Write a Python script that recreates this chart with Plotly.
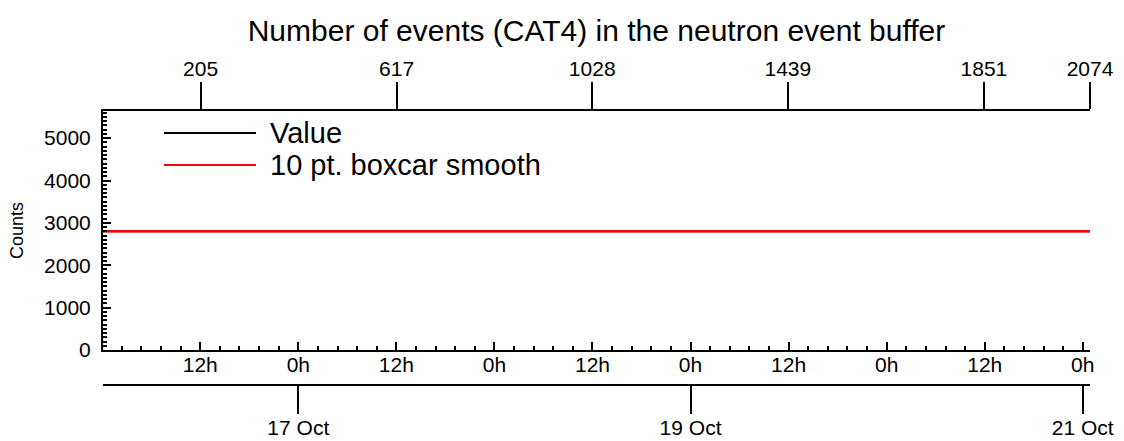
import plotly.graph_objects as go

# ---- data ----
times = ["2017-10-16 00:06", "2017-10-21 00:53"]
value = [2800, 2800]
smooth = [2800, 2800]
index_span = [0, 2074]

hour_ticks = ["2017-10-16 12:00", "2017-10-17 00:00", "2017-10-17 12:00",
              "2017-10-18 00:00", "2017-10-18 12:00", "2017-10-19 00:00",
              "2017-10-19 12:00", "2017-10-20 00:00", "2017-10-20 12:00",
              "2017-10-21 00:00"]
hour_labels = ["12h", "0h", "12h", "0h", "12h", "0h", "12h", "0h", "12h", "0h"]
date_ticks = ["2017-10-17", "2017-10-19", "2017-10-21"]
date_labels = ["17 Oct", "19 Oct", "21 Oct"]
index_ticks = [205, 617, 1028, 1439, 1851, 2074]

FONT = "Liberation Sans, Arial, Helvetica, sans-serif"
W, H = 1124, 441
ML = 103
MR = 1124 - 1090
MT = 111
plot_bottom = 350
date_line = 385
MB = 14
ph = H - MT - MB
pw = W - ML - MR
ydom0 = (H - MB - plot_bottom) / ph
pos3 = (H - MB - date_line) / ph

fig = go.Figure()
fig.add_trace(go.Scatter(x=times, y=value, mode="lines", name="Value",
                         line=dict(color="black", width=2), xaxis="x", yaxis="y",
                         showlegend=False))
fig.add_trace(go.Scatter(x=times, y=smooth, mode="lines", name="10 pt. boxcar smooth",
                         line=dict(color="#ff0000", width=2.5), xaxis="x", yaxis="y",
                         showlegend=False))
# helper traces so the overlay axes render
fig.add_trace(go.Scatter(x=index_span, y=value, mode="lines", line=dict(width=0),
                         opacity=0, hoverinfo="skip", showlegend=False,
                         xaxis="x2", yaxis="y"))
fig.add_trace(go.Scatter(x=times, y=value, mode="lines", line=dict(width=0),
                         opacity=0, hoverinfo="skip", showlegend=False,
                         xaxis="x3", yaxis="y"))

tickfont = dict(family=FONT, size=21, color="black")

fig.update_layout(
    template="none",
    width=W, height=H,
    margin=dict(l=ML, r=MR, t=MT, b=MB, autoexpand=False),
    paper_bgcolor="white", plot_bgcolor="white",
    showlegend=False,
    title=dict(text="Number of events (CAT4) in the neutron event buffer",
               x=(ML + pw / 2) / W, xanchor="center",
               y=1 - 30 / H, yanchor="middle",
               font=dict(family=FONT, size=30, color="black")),
    xaxis=dict(type="date", range=[times[0], times[-1]], anchor="y", automargin=False,
               showline=True, linecolor="black", linewidth=2,
               showgrid=False, zeroline=False,
               tickmode="array", tickvals=hour_ticks, ticktext=hour_labels,
               ticks="inside", ticklen=8, tickwidth=2, tickcolor="black",
               tickfont=tickfont, ticklabelstandoff=-5,
               minor=dict(ticks="inside", ticklen=4, tickwidth=2, tickcolor="black",
                          dtick=8640000, tick0="2017-10-16 00:00", showgrid=False)),
    xaxis2=dict(type="linear", range=index_span, overlaying="x", anchor="y", side="top",
                automargin=False,
                showline=True, linecolor="black", linewidth=2,
                showgrid=False, zeroline=False,
                tickmode="array", tickvals=index_ticks,
                ticktext=[str(v) for v in index_ticks],
                ticks="outside", ticklen=27, tickwidth=2, tickcolor="black",
                tickfont=tickfont, ticklabelstandoff=-2),
    xaxis3=dict(type="date", range=[times[0], times[-1]], overlaying="x",
                anchor="free", position=pos3, side="bottom", automargin=False,
                showline=True, linecolor="black", linewidth=2,
                showgrid=False, zeroline=False,
                tickmode="array", tickvals=date_ticks, ticktext=date_labels,
                ticks="outside", ticklen=28, tickwidth=2, tickcolor="black",
                tickfont=tickfont, ticklabelstandoff=-4),
    yaxis=dict(range=[0, 5640], domain=[ydom0, 1], automargin=False,
               showline=True, linecolor="black", linewidth=2,
               showgrid=False, zeroline=False,
               tickmode="linear", tick0=0, dtick=1000,
               ticks="inside", ticklen=8, tickwidth=2, tickcolor="black",
               tickfont=tickfont, ticklabelstandoff=6,
               minor=dict(ticks="inside", ticklen=4, tickwidth=1.5, tickcolor="black",
                          dtick=100, showgrid=False),
               title=dict(text="Counts", font=dict(family=FONT, size=18, color="black"),
                          standoff=16)),
)

# legend drawn as lines + text
leg_x0 = (164 - ML) / pw
leg_x1 = (256 - ML) / pw
leg_tx = (268 - ML) / pw
leg_items = [("Value", "black", 133), ("10 pt. boxcar smooth", "#ff0000", 165)]
for label, col, ypix in leg_items:
    yp = (H - MB - ypix) / ph
    fig.add_shape(type="line", xref="paper", yref="paper", x0=leg_x0, x1=leg_x1,
                  y0=yp, y1=yp, line=dict(color=col, width=2))
    fig.add_annotation(xref="paper", yref="paper", x=leg_tx, y=yp, text=label,
                       showarrow=False, xanchor="left", yanchor="middle",
                       font=dict(family=FONT, size=29, color="black"))

fig.write_html("out.html", config={"displayModeBar": False},
               post_script="document.body.style.margin='0';document.body.style.overflow='hidden';")
